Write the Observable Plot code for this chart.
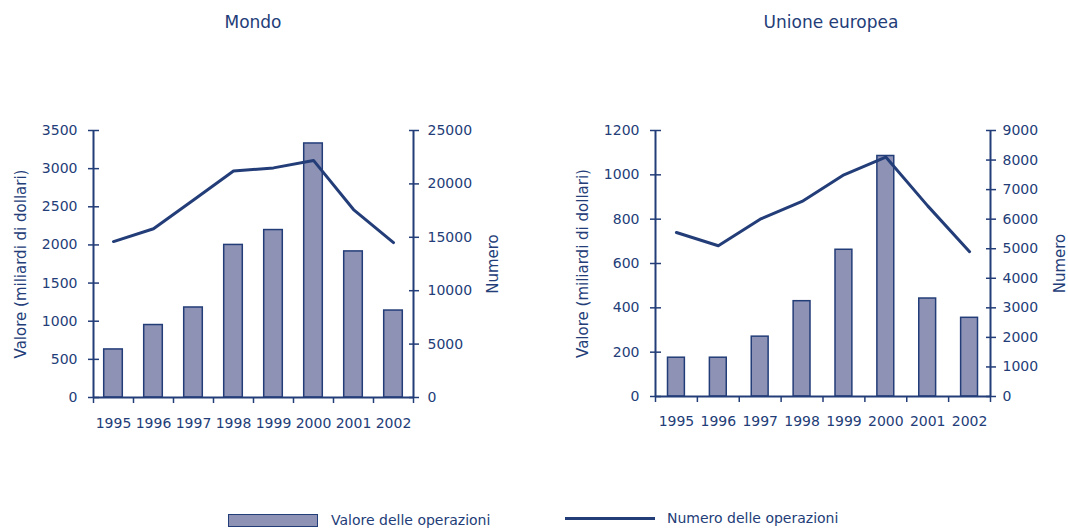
<!DOCTYPE html>
<html>
<head>
<meta charset="utf-8">
<script src="https://cdn.jsdelivr.net/npm/d3@7"></script>
<script src="https://cdn.jsdelivr.net/npm/@observablehq/plot@0.6"></script>
<style>
  html, body { margin: 0; padding: 0; background: #fff; }
  #root { position: relative; width: 1068px; height: 529px; font-family: "DejaVu Sans", sans-serif; color: #233d78; overflow: hidden; }
  .title { position: absolute; font-size: 17px; line-height: 20px; text-align: center; white-space: nowrap; }
  .chart { position: absolute; top: 100px; }
  .leg { position: absolute; font-size: 14px; line-height: 16px; white-space: nowrap; }
</style>
</head>
<body>
<div id="root">
  <div class="title" style="left:153px;width:200px;top:12px;">Mondo</div>
  <div class="title" style="left:731px;width:200px;top:12px;">Unione europea</div>
  <div class="chart" id="c1" style="left:0px;"></div>
  <div class="chart" id="c2" style="left:540px;"></div>
  <div style="position:absolute;left:228px;top:514px;width:88px;height:11px;background:#8e93b6;border:1.5px solid #233d78;"></div>
  <div class="leg" style="left:331px;top:512px;">Valore delle operazioni</div>
  <div style="position:absolute;left:565px;top:517px;width:90px;height:3px;background:#233d78;"></div>
  <div class="leg" style="left:667px;top:510px;">Numero delle operazioni</div>
</div>
<script>
const years = [1995, 1996, 1997, 1998, 1999, 2000, 2001, 2002];
const mondoValore = [630, 950, 1180, 2000, 2195, 3330, 1915, 1140];
const mondoNumero = [14600, 15800, 18500, 21200, 21500, 22200, 17600, 14500];
const ueValore = [175, 175, 270, 430, 662, 1085, 442, 355];
const ueNumero = [5550, 5100, 6000, 6600, 7500, 8100, 6450, 4900];
const mondoLeftTicks = [0, 500, 1000, 1500, 2000, 2500, 3000, 3500];
const mondoRightTicks = [0, 5000, 10000, 15000, 20000, 25000];
const ueLeftTicks = [0, 200, 400, 600, 800, 1000, 1200];
const ueRightTicks = [0, 1000, 2000, 3000, 4000, 5000, 6000, 7000, 8000, 9000];
const leftLabel = "Valore (miliardi di dollari)";
const rightLabel = "Numero";

const navy = "#233d78";
const barFill = "#8e93b6";

function makeChart(o) {
  const data = years.map((y, i) => ({year: y, valore: o.valore[i], numero: o.numero[i]}));
  const k = o.yMax / o.rMax;
  const xMin = years[0] - 0.5, xMax = years[years.length - 1] + 0.5;
  const bounds = [...years.map(y => y - 0.5), xMax];
  return Plot.plot({
    width: o.width, height: o.height,
    marginLeft: o.marginLeft, marginRight: o.marginRight,
    marginTop: o.marginTop, marginBottom: o.marginBottom,
    style: {fontFamily: "DejaVu Sans, sans-serif", fontSize: "14px", color: navy, background: "white", overflow: "visible"},
    x: {domain: [xMin, xMax], axis: null},
    y: {domain: [0, o.yMax], axis: null},
    marks: [
      Plot.rectY(data, {x1: d => d.year - 0.5, x2: d => d.year + 0.5, y: "valore",
        insetLeft: o.inset, insetRight: o.inset, fill: barFill, stroke: navy, strokeWidth: 1.5}),
      Plot.ruleY([0], {stroke: navy, strokeWidth: 2}),
      Plot.ruleX([xMin, xMax], {y1: 0, y2: o.yMax, stroke: navy, strokeWidth: 2}),
      Plot.line(data, {x: "year", y: d => d.numero * k, stroke: navy, strokeWidth: 3}),
      Plot.axisY({ticks: o.leftTicks, tickSize: 11, dx: 6, tickPadding: 11, label: null,
        tickFormat: d => String(d), fontSize: 14, strokeWidth: 1.5}),
      Plot.axisY({anchor: "right", ticks: o.rightTicks.map(v => v * k), tickFormat: v => String(Math.round(v / k)),
        tickSize: 10, dx: -5, tickPadding: o.rightPad, label: null, fontSize: 14, strokeWidth: 1.5}),
      Plot.axisX({ticks: bounds, tickFormat: () => "", tickSize: 6, label: null, strokeWidth: 1.5}),
      Plot.axisX({ticks: years, tickFormat: d => String(d), tickSize: 0, tickPadding: o.xPad, label: null, fontSize: 14}),
      Plot.text([leftLabel], {frameAnchor: "left", textAnchor: "middle", rotate: -90, dx: o.leftLabelDx, fontSize: 15, fill: navy}),
      Plot.text([rightLabel], {frameAnchor: "right", textAnchor: "middle", rotate: -90, dx: o.rightLabelDx, fontSize: 15, fill: navy})
    ]
  });
}

document.getElementById("c1").appendChild(makeChart({
  valore: mondoValore, numero: mondoNumero, yMax: 3500, rMax: 25000,
  leftTicks: mondoLeftTicks, rightTicks: mondoRightTicks,
  width: 530, height: 340, marginLeft: 93, marginRight: 117, marginTop: 30, marginBottom: 43,
  inset: 10.7, rightPad: 9, xPad: 21, leftLabelDx: -72, rightLabelDx: 80
}));
document.getElementById("c2").appendChild(makeChart({
  valore: ueValore, numero: ueNumero, yMax: 1200, rMax: 9000,
  leftTicks: ueLeftTicks, rightTicks: ueRightTicks,
  width: 528, height: 340, marginLeft: 115, marginRight: 78, marginTop: 30, marginBottom: 44,
  inset: 12.5, rightPad: 7, xPad: 20, leftLabelDx: -72, rightLabelDx: 70
}));
</script>
</body>
</html>
